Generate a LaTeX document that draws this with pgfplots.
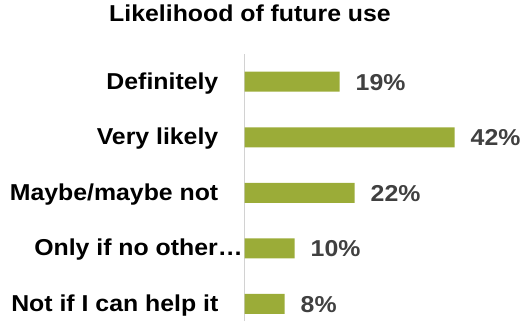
\documentclass[border=0pt]{standalone}
\usepackage{fontspec}
\setmainfont{Liberation Sans}[FakeStretch=1.08]
\usepackage{pgfplots}
\pgfplotsset{compat=1.18}
\definecolor{barc}{RGB}{155,172,56}
\definecolor{numc}{RGB}{64,64,64}
\definecolor{axc}{RGB}{210,210,210}
\newcommand{\lbl}{\fontsize{23}{27}\selectfont\bfseries}
\begin{document}
\begin{tikzpicture}[x=1pt,y=1pt]
\useasboundingbox (0,0) rectangle (524,321);
\begin{axis}[
 at={(244.5pt,0pt)}, anchor=south west,
 scale only axis, width=250pt, height=267pt,
 xmin=0, xmax=50, ymin=0.69, ymax=5.5,
 xbar, bar width=20pt,
 axis x line=none, axis y line=left,
 axis line style={-, draw=axc, line width=1.8pt},
 ytick={1,2,3,4,5},
 yticklabels={Not if I can help it, {\makebox[184pt][l]{Only if no other…}}, Maybe/maybe not, Very likely, Definitely},
 major tick length=0pt,
 yticklabel style={anchor=base east, inner sep=0pt, xshift=-26pt, yshift=-7.5pt, font=\lbl, text=black},
 point meta=explicit symbolic,
 nodes near coords,
 nodes near coords style={anchor=base west, inner sep=0pt, xshift=16pt, yshift=-8.5pt, font=\lbl, text=numc},
 title={Likelihood of future use},
 title style={at={(axis description cs:0.022,1.101)}, anchor=base, font=\lbl, inner sep=0pt},
 clip=false,
]
\addplot[fill=barc, draw=none] coordinates {(8,1) [8\%] (10,2) [10\%] (22,3) [22\%] (42,4) [42\%] (19,5) [19\%]};
\end{axis}
\end{tikzpicture}
\end{document}
